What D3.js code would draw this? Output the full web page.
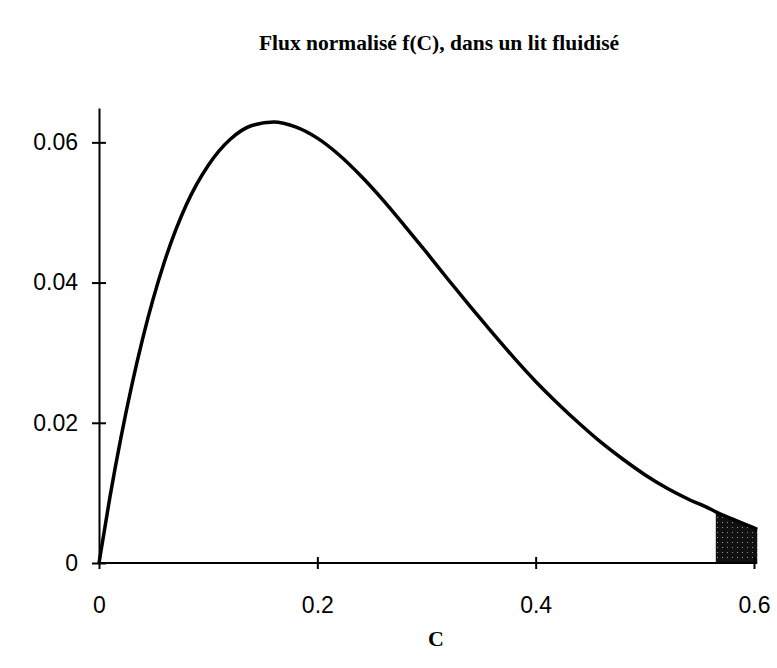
<!DOCTYPE html>
<html><head><meta charset="utf-8">
<script src="https://cdn.jsdelivr.net/npm/d3@7"></script>
<style>body{margin:0;background:#fff}</style>
</head><body>
<script>
const title = "Flux normalisé f(C), dans un lit fluidisé";
const xLabel = "C";
const concentrations = [0,0.01,0.02,0.04,0.06,0.08,0.10,0.12,0.14,0.16,0.18,0.20,0.22,0.24,0.26,0.28,0.30,0.32,0.34,0.36,0.38,0.40,0.42,0.44,0.46,0.48,0.50,0.52,0.54,0.56,0.565,0.58,0.60,0.603];
const fluxValues = [0,0.0094,0.0178,0.0320,0.0430,0.0511,0.0567,0.0604,0.0624,0.0629,0.0622,0.0606,0.0582,0.0552,0.0518,0.0481,0.0443,0.0404,0.0366,0.0329,0.0293,0.0259,0.0228,0.0199,0.0172,0.0148,0.0126,0.0107,0.0091,0.0077,0.0073,0.0063,0.0050,0.0048];
const shadeStart = 0.565;
const xTicks = [0,0.2,0.4,0.6];
const yTicks = [0,0.02,0.04,0.06];
const xTickLabels = ["0","0.2","0.4","0.6"];
const yTickLabels = ["0","0.02","0.04","0.06"];

const W = 777, H = 668;
const svg = d3.select("body").append("svg").attr("width", W).attr("height", H);
const x = d3.scaleLinear().domain([0, 0.6]).range([99, 754]);
const y = d3.scaleLinear().domain([0, 0.0649]).range([563, 108]);

const defs = svg.append("defs");
const pat = defs.append("pattern").attr("id","dots").attr("patternUnits","userSpaceOnUse").attr("width",5).attr("height",5);
pat.append("rect").attr("width",5).attr("height",5).attr("fill","#111");
pat.append("rect").attr("x",2).attr("y",2).attr("width",1).attr("height",1).attr("fill","#999");

svg.append("text").attr("x", 439).attr("y", 50).attr("text-anchor","middle")
  .style("font-family","'Liberation Serif','Times New Roman',serif").style("font-weight","bold").style("font-size","21.5px")
  .text(title);

const pts = concentrations.map((c,i)=>({c, f: fluxValues[i]}));
const shadePts = pts.filter(p => p.c >= shadeStart);
svg.append("path").datum(shadePts)
  .attr("d", d3.area().x(d=>x(d.c)).y0(y(0)).y1(d=>y(d.f)).curve(d3.curveMonotoneX))
  .attr("fill","url(#dots)");

const yAxis = d3.axisLeft(y).tickValues(yTicks).tickFormat((d,i)=>yTickLabels[i]).tickSizeInner(7).tickSizeOuter(0).tickPadding(14);
const gy = svg.append("g").attr("transform",`translate(${x(0)},0)`).call(yAxis);
gy.selectAll(".tick line").attr("x2",-7).attr("x1",7);
const xAxis = d3.axisBottom(x).tickValues(xTicks).tickFormat((d,i)=>xTickLabels[i]).tickSizeInner(6).tickSizeOuter(0).tickPadding(28);
const gx = svg.append("g").attr("transform",`translate(0,${y(0)})`).call(xAxis);
gx.selectAll(".tick line").attr("y1",-6).attr("y2",6);
gx.select(".domain").attr("d", `M${x(0)},0H${x(0.603)}`);
[gx, gy].forEach(g => {
  g.selectAll(".domain, .tick line").attr("stroke","#000").attr("stroke-width",2);
  g.selectAll("text").attr("fill","#000").style("font-family","'Liberation Sans',Arial,sans-serif").style("font-size","23px");
});

svg.append("path").datum(pts)
  .attr("d", d3.line().x(d=>x(d.c)).y(d=>y(d.f)).curve(d3.curveMonotoneX))
  .attr("fill","none").attr("stroke","#000").attr("stroke-width",3.5);

svg.append("text").attr("x", 436).attr("y", 646).attr("text-anchor","middle")
  .style("font-family","'Liberation Serif','Times New Roman',serif").style("font-weight","bold").style("font-size","22px")
  .text(xLabel);
</script>
</body></html>
